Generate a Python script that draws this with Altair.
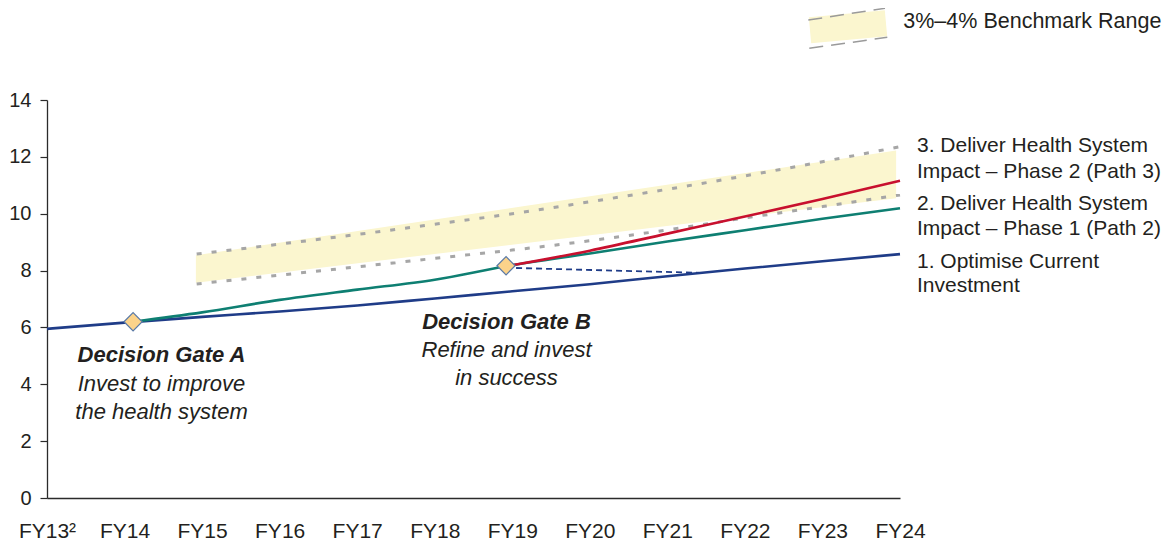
import json
import altair as alt
import pandas as pd

# ---------------- data ----------------
FY_LABELS = ["FY13²", "FY14", "FY15", "FY16", "FY17", "FY18",
             "FY19", "FY20", "FY21", "FY22", "FY23", "FY24"]
YEAR_IDX = list(range(12))

PATH1_NAME = "1. Optimise Current Investment"
PATH1_X = list(range(12))
PATH1_Y = [5.95, 6.17, 6.37, 6.56, 6.77, 7.02, 7.27, 7.52, 7.80, 8.07, 8.33, 8.58]

PATH2_NAME = "2. Deliver Health System Impact – Phase 1 (Path 2)"
PATH2_X = [1.11, 2, 3, 4, 5, 5.92, 7, 8, 9, 10, 11]
PATH2_Y = [6.20, 6.53, 6.97, 7.33, 7.68, 8.15, 8.60, 9.02, 9.42, 9.82, 10.19]

PATH3_NAME = "3. Deliver Health System Impact – Phase 2 (Path 3)"
PATH3_X = [5.92, 7, 8, 9, 10, 11]
PATH3_Y = [8.15, 8.70, 9.30, 9.90, 10.52, 11.16]

FALLBACK_X = [5.92, 8.42]
FALLBACK_Y = [8.10, 7.92]

GATE_NAMES = ["Decision Gate A", "Decision Gate B"]
GATE_X = [1.11, 5.92]
GATE_Y = [6.20, 8.17]

BENCH_X = [1.93, 3, 4, 5, 6, 7, 8, 9, 10, 11]
BENCH_LO = [7.53, 7.84, 8.13, 8.43, 8.72, 9.05, 9.43, 9.85, 10.25, 10.66]
BENCH_HI = [8.58, 8.93, 9.27, 9.63, 10.00, 10.42, 10.86, 11.33, 11.83, 12.36]

BAND_X = [1.92, 10.95]
BAND_LO = [7.57, 10.54]
BAND_HI = [8.54, 12.22]

Y_TICKS = [0, 2, 4, 6, 8, 10, 12, 14]

LEGEND_TEXT = "3%–4% Benchmark Range"
RIGHT_LABELS = [
    ["3. Deliver Health System", "Impact – Phase 2 (Path 3)"],
    ["2. Deliver Health System", "Impact – Phase 1 (Path 2)"],
    ["1. Optimise Current", "Investment"],
]
GATE_A_TEXT = ["Decision Gate A", "Invest to improve", "the health system"]
GATE_B_TEXT = ["Decision Gate B", "Refine and invest", "in success"]

# ---------------- styling ----------------
FONT = "Liberation Sans"
TEXT_COLOR = "#231f20"
AXIS_COLOR = "#2b2b2b"
NAVY = "#1f3c88"
TEAL = "#0e7f72"
RED = "#c8102e"
BAND_FILL = "#fbf6cf"
BOUND_GRAY = "#a6a6a6"

W, H = 853, 398
OX, OY = 47, 100  # page position of plot origin
SVG_W, SVG_H = 1155, 534

x_enc = alt.X(
    "x:Q",
    scale=alt.Scale(domain=[0, 11], nice=False, zero=False),
    axis=alt.Axis(
        values=YEAR_IDX,
        labelExpr=json.dumps(FY_LABELS, ensure_ascii=False) + "[datum.value]",
        title=None, grid=False, ticks=False, tickSize=0,
        labelBaseline="alphabetic", labelPadding=39, labelFont=FONT,
        labelFontSize=21, labelColor=TEXT_COLOR, domainColor=AXIS_COLOR,
        domainWidth=1.3, labelFlush=False, labelOverlap=False,
    ),
)
y_enc = alt.Y(
    "y:Q",
    scale=alt.Scale(domain=[0, 14], nice=False),
    axis=alt.Axis(
        values=Y_TICKS, title=None, grid=False, tickSize=7,
        tickColor=AXIS_COLOR, tickWidth=1.2, labelPadding=9,
        labelFont=FONT, labelFontSize=20, labelColor=TEXT_COLOR,
        domainColor=AXIS_COLOR, domainWidth=1.3,
    ),
)

band_df = pd.DataFrame({"x": BAND_X, "y": BAND_LO, "y2": BAND_HI})
band = alt.Chart(band_df).mark_area(color=BAND_FILL, opacity=1).encode(
    x=x_enc, y=y_enc, y2="y2:Q"
)

lo_df = pd.DataFrame({"x": BENCH_X, "y": BENCH_LO})
hi_df = pd.DataFrame({"x": BENCH_X, "y": BENCH_HI})
bound_style = dict(color=BOUND_GRAY, strokeWidth=3, strokeDash=[5, 10],
                   interpolate="monotone")
lo_line = alt.Chart(lo_df).mark_line(**bound_style).encode(x=x_enc, y=y_enc)
hi_line = alt.Chart(hi_df).mark_line(**bound_style).encode(x=x_enc, y=y_enc)


def path(xs, ys, name, color, **kw):
    df = pd.DataFrame({"x": xs, "y": ys, "series": name})
    return alt.Chart(df).mark_line(color=color, interpolate="monotone", **kw).encode(
        x=x_enc, y=y_enc
    )


p1 = path(PATH1_X, PATH1_Y, PATH1_NAME, NAVY, strokeWidth=2.6)
p2 = path(PATH2_X, PATH2_Y, PATH2_NAME, TEAL, strokeWidth=2.6)
p3 = path(PATH3_X, PATH3_Y, PATH3_NAME, RED, strokeWidth=2.6)
fb = path(FALLBACK_X, FALLBACK_Y, "fallback", NAVY, strokeWidth=1.8, strokeDash=[6, 4])

gates_df = pd.DataFrame({"x": GATE_X, "y": GATE_Y, "gate": GATE_NAMES})
gates = alt.Chart(gates_df).mark_point(
    shape="diamond", size=330, filled=True, fill="#fcd38a",
    stroke="#5b7aa6", strokeWidth=1.2, opacity=1,
).encode(x=x_enc, y=y_enc)

ONE = pd.DataFrame({"k": [0]})


def txt(s, px, py, size=21.5, align="left", style="normal", weight="normal"):
    return alt.Chart(ONE).mark_text(
        text=s, align=align, baseline="alphabetic", fontSize=size,
        fontStyle=style, fontWeight=weight, font=FONT, color=TEXT_COLOR,
    ).encode(x=alt.value(px - OX), y=alt.value(py - OY))


def seg(x1, y1, x2, y2, **kw):
    return alt.Chart(ONE).mark_rule(**kw).encode(
        x=alt.value(x1 - OX), y=alt.value(y1 - OY),
        x2=alt.value(x2 - OX), y2=alt.value(y2 - OY),
    )


layers = [band, lo_line, hi_line, p1, p2, fb, p3, gates]

# right-hand series labels
right_baselines = [(152.4, 177.7), (209.7, 235.2), (268.2, 292.4)]
for lines, bls in zip(RIGHT_LABELS, right_baselines):
    for s, b in zip(lines, bls):
        layers.append(txt(s, 917, b, size=21))

# decision gate annotations
for i, (s, b) in enumerate(zip(GATE_A_TEXT, [361.7, 390.5, 418.5])):
    layers.append(txt(s, 161.5, b, size=22, align="center", style="italic",
                      weight="bold" if i == 0 else "normal"))
for i, (s, b) in enumerate(zip(GATE_B_TEXT, [328.5, 357.0, 385.0])):
    layers.append(txt(s, 506.5, b, size=22, align="center", style="italic",
                      weight="bold" if i == 0 else "normal"))

# benchmark legend swatch
layers.append(seg(810, 30.3, 886, 23.3, color=BAND_FILL, strokeWidth=26, strokeCap="butt"))
layers.append(seg(808.3, 20, 885, 8.3, color="#9a9a9a", strokeWidth=1.5, strokeDash=[14, 8]))
layers.append(seg(809.3, 48.3, 887.3, 37.3, color="#9a9a9a", strokeWidth=1.5, strokeDash=[14, 8]))
layers.append(txt(LEGEND_TEXT, 903.3, 27.7))

chart = alt.layer(*layers).properties(
    width=W, height=H,
    padding={"left": OX - 8, "top": OY - 8, "right": SVG_W - (OX - 8) - W,
             "bottom": SVG_H - (OY - 8) - H},
    autosize=alt.AutoSizeParams(type="none"),
    background="white",
).configure_view(stroke=None)

chart.save("out.html", embed_options={"renderer": "svg", "actions": False})
